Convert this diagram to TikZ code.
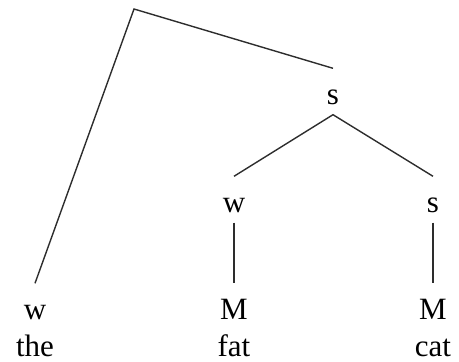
\documentclass[tikz,border=0pt]{standalone}
\usepackage{fontspec}
\setmainfont{Liberation Serif}
\usepackage{tikz}
\definecolor{TreeInk}{RGB}{45,45,45}

\begin{document}
\begin{tikzpicture}[x=1pt,y=-1pt,
    lab/.style={anchor=base,inner xsep=0pt,inner ysep=10.5pt,
      text height=25pt,text depth=0pt,font=\fontsize{31}{31}\selectfont},
    word/.style={anchor=base,inner sep=0pt,font=\fontsize{31}{31}\selectfont},
    branch/.style={draw=TreeInk,line width=1.4pt,line join=miter}]
  \useasboundingbox (0,0) rectangle (459,362);
  % top of the tree
  \coordinate (top) at (134,9);
  \node[lab] (s1) at (333,104) {s};
  % second row
  \node[lab] (w2) at (234,212) {w};
  \node[lab] (s2) at (433,212) {s};
  % third row
  \node[lab] (w3) at (35,319) {w};
  \node[lab] (m1) at (234,319) {M};
  \node[lab] (m2) at (433,319) {M};
  % words
  \node[word] (the) at (35,356) {the};
  \node[word] (fat) at (234,356) {fat};
  \node[word] (cat) at (433,356) {cat};
  % branches
  \draw[branch] (w3.north) -- (top) -- (s1.north);
  \draw[branch] (w2.north) -- (s1.south) -- (s2.north);
  \draw[branch] (w2.south) -- (m1.north);
  \draw[branch] (s2.south) -- (m2.north);
\end{tikzpicture}
\end{document}
